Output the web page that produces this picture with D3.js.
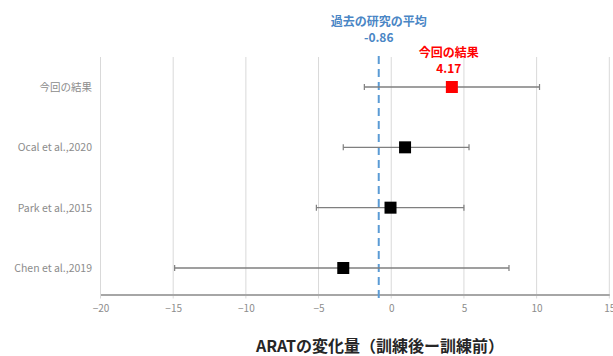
<!DOCTYPE html>
<html>
<head>
<meta charset="utf-8">
<script src="https://cdn.jsdelivr.net/npm/d3@7"></script>
<style>
  html, body { margin: 0; padding: 0; background: #fff; }
  svg { display: block; font-family: "Noto Sans CJK JP", "Noto Sans", sans-serif; }
</style>
</head>
<body>
<svg id="chart" width="613" height="356"></svg>
<script>
// Studies (top to bottom) with point estimate and interval bounds
const studies = ["今回の結果", "Ocal et al.,2020", "Park et al.,2015", "Chen et al.,2019"];
const estimates = [4.17, 0.95, -0.05, -3.3];
const lowers = [-1.85, -3.3, -5.15, -14.9];
const uppers = [10.2, 5.35, 5.0, 8.1];
const xTicks = [-20, -15, -10, -5, 0, 5, 10, 15];
const pastMean = -0.86;
const axisTitle = "ARATの変化量（訓練後ー訓練前）";

const svg = d3.select("#chart");
const x = d3.scaleLinear().domain([-20, 15]).range([100.5, 609.3]);
const y = d3.scalePoint().domain(studies).range([87, 268]);
const plotTop = 57, plotBottom = 294.5;

// vertical gridlines
svg.append("g").selectAll("line").data(xTicks).join("line")
  .attr("x1", d => x(d)).attr("x2", d => x(d))
  .attr("y1", plotTop).attr("y2", plotBottom + 4)
  .attr("stroke", "#d9d9d9").attr("stroke-width", 1);

// x axis
const xAxis = d3.axisBottom(x).tickValues(xTicks).tickSize(0).tickPadding(10);
const gx = svg.append("g").attr("transform", `translate(0,${plotBottom})`).call(xAxis);
gx.select(".domain").attr("stroke", "#a6a6a6").attr("stroke-width", 2);
gx.selectAll("text").attr("fill", "#8c8c8c").attr("font-size", 10)
  .attr("font-family", "'Noto Sans CJK JP', sans-serif");

// y labels
const yAxis = d3.axisLeft(y).tickSize(0).tickPadding(8);
const gy = svg.append("g").attr("transform", `translate(100,0)`).call(yAxis);
gy.select(".domain").remove();
gy.selectAll("text").attr("fill", "#8c8c8c").attr("font-size", 10.5)
  .attr("font-family", "'Noto Sans CJK JP', sans-serif");

// past-studies mean (dashed)
svg.append("line")
  .attr("x1", x(pastMean)).attr("x2", x(pastMean))
  .attr("y1", 56).attr("y2", 300)
  .attr("stroke", "#5b9bd5").attr("stroke-width", 2)
  .attr("stroke-dasharray", "8,5");

// error bars
const rows = studies.map((s, i) => ({ s, est: estimates[i], lo: lowers[i], hi: uppers[i], i }));
const eb = svg.append("g");
eb.selectAll("line.bar").data(rows).join("line").attr("class", "bar")
  .attr("x1", d => x(d.lo)).attr("x2", d => x(d.hi))
  .attr("y1", d => y(d.s)).attr("y2", d => y(d.s))
  .attr("stroke", "#7f7f7f").attr("stroke-width", 1.3);
["lo", "hi"].forEach(k => {
  eb.selectAll("line.cap-" + k).data(rows).join("line").attr("class", "cap-" + k)
    .attr("x1", d => x(d[k])).attr("x2", d => x(d[k]))
    .attr("y1", d => y(d.s) - 3).attr("y2", d => y(d.s) + 3)
    .attr("stroke", "#7f7f7f").attr("stroke-width", 1.2);
});

// point markers
const size = 12;
svg.append("g").selectAll("rect").data(rows).join("rect")
  .attr("x", d => x(d.est) - size / 2).attr("y", d => y(d.s) - size / 2)
  .attr("width", size).attr("height", size)
  .attr("fill", d => d.i === 0 ? "#ff0000" : "#000000");

// annotations
const ann = svg.append("g").attr("text-anchor", "middle").attr("font-weight", "bold").attr("font-size", 12);
ann.append("text").attr("x", x(pastMean)).attr("y", 26).attr("fill", "#4a86c5").text("過去の研究の平均");
ann.append("text").attr("x", x(pastMean)).attr("y", 42).attr("fill", "#4a86c5").text(pastMean.toFixed(2));
ann.append("text").attr("x", x(estimates[0]) - 3).attr("y", 57).attr("fill", "#ff0000").text("今回の結果");
ann.append("text").attr("x", x(estimates[0]) - 3).attr("y", 73).attr("fill", "#ff0000").text(estimates[0].toFixed(2));

// axis title
svg.append("text").attr("x", 380).attr("y", 352).attr("text-anchor", "middle")
  .attr("font-weight", "bold").attr("font-size", 16).attr("fill", "#262626")
  .text(axisTitle);
</script>
</body>
</html>
